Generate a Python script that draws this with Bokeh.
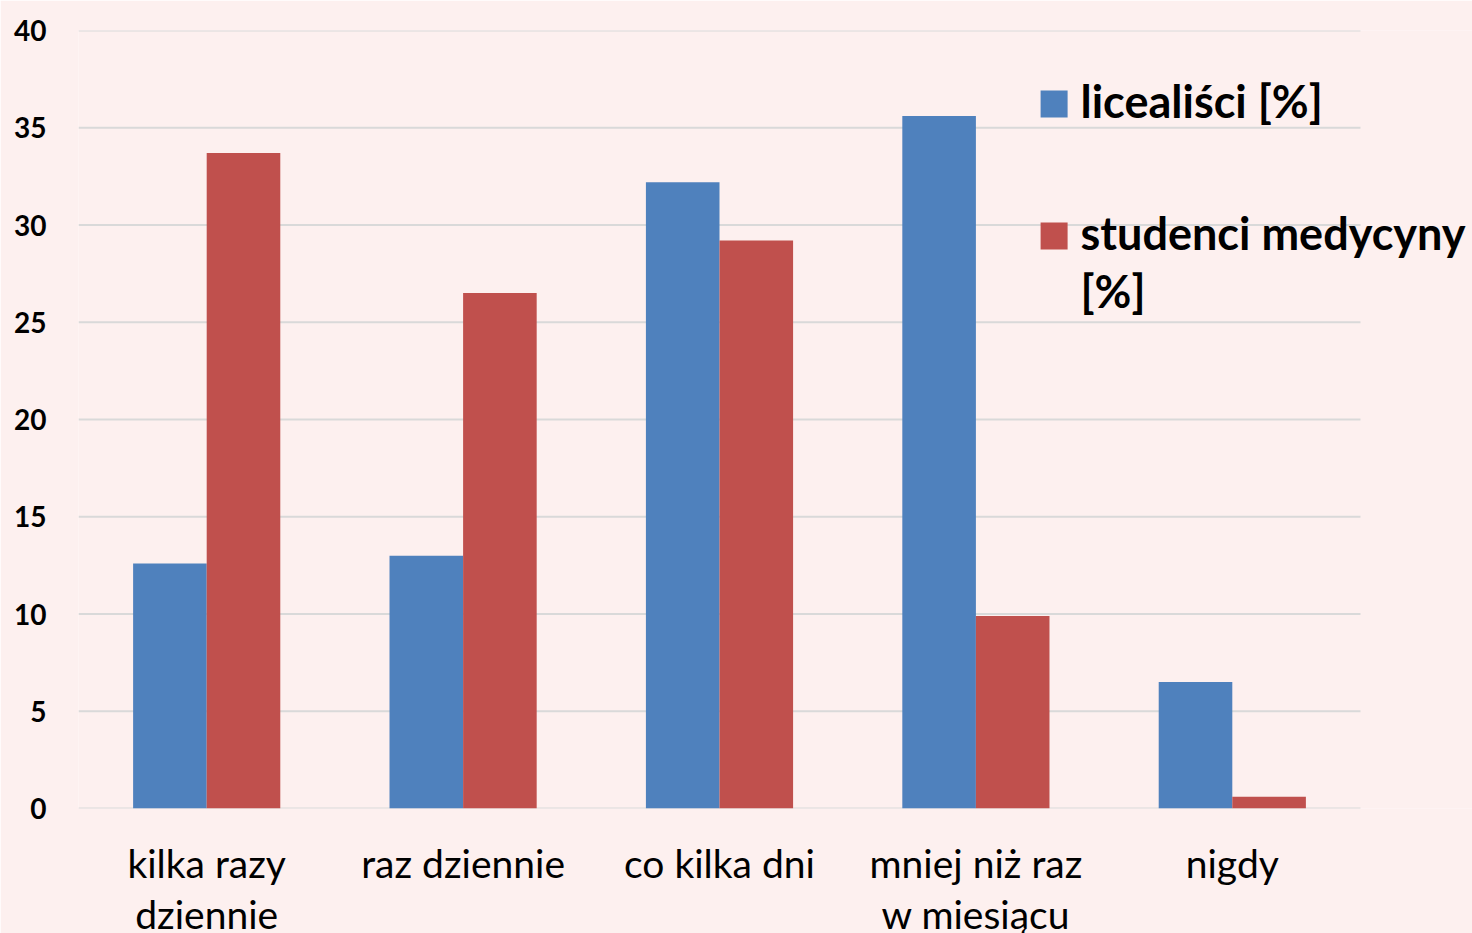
from bokeh.plotting import figure
from bokeh.models import Range1d, FixedTicker, Label, ColumnDataSource
from bokeh.embed import file_html
from bokeh.resources import INLINE

categories = ["kilka razy\ndziennie", "raz dziennie", "co kilka dni", "mniej niż raz\nw miesiącu", "nigdy"]
licealisci = [12.6, 13.0, 32.2, 35.6, 6.5]
studenci = [33.7, 26.5, 29.2, 9.9, 0.6]
series_names = ["licealiści [%]", "studenci medycyny", "[%]"]
y_ticks = [0, 5, 10, 15, 20, 25, 30, 35, 40]

BLUE = "#4F81BD"
RED = "#C0504D"
BG = "#FDF0EF"
GRID = "#D9D9D9"
FONT = "Lato"

n = len(categories)
cat_px = 256.4
left, top = 78, 30
frame_w = 1472 - left
frame_h = 778
xmax = frame_w / cat_px

p = figure(frame_width=frame_w, frame_height=frame_h, output_backend="svg", toolbar_location=None,
           x_range=Range1d(0, xmax), y_range=Range1d(0, 40),
           min_border_left=left, min_border_right=0, min_border_top=top, min_border_bottom=0)
p.background_fill_color = BG
p.border_fill_color = BG
p.outline_line_color = None

# gridlines only across the category area
p.segment(x0=[0] * len(y_ticks), x1=[n] * len(y_ticks), y0=y_ticks, y1=y_ticks,
          line_color=GRID, line_width=2)

centers = [i + 0.5 for i in range(n)]
bw = 0.287
src = ColumnDataSource(dict(xb=[c - bw / 2 for c in centers], xr=[c + bw / 2 for c in centers],
                            lic=licealisci, stu=studenci))
p.vbar(x="xb", top="lic", width=bw, bottom=0, source=src, fill_color=BLUE, line_color=None)
p.vbar(x="xr", top="stu", width=bw, bottom=0, source=src, fill_color=RED, line_color=None)

# axes
p.xaxis.ticker = FixedTicker(ticks=centers)
p.xaxis.major_label_overrides = {c: lab for c, lab in zip(centers, categories)}
p.xaxis.axis_line_color = None
p.xaxis.major_tick_line_color = None
p.xaxis.minor_tick_line_color = None
p.xaxis.major_label_text_font = FONT
p.xaxis.major_label_text_font_size = "39px"
p.xaxis.major_label_text_line_height = 1.12
p.xaxis.major_label_text_color = "black"
p.xaxis.major_label_standoff = 25
p.xgrid.grid_line_color = None
p.ygrid.grid_line_color = None

p.yaxis.ticker = FixedTicker(ticks=y_ticks)
p.yaxis.axis_line_color = None
p.yaxis.major_tick_line_color = None
p.yaxis.minor_tick_line_color = None
p.yaxis.major_label_text_font = FONT
p.yaxis.major_label_text_font_style = "bold"
p.yaxis.major_label_text_font_size = "28px"
p.yaxis.major_label_text_color = "black"
p.yaxis.major_label_standoff = 26

# legend (manual)
p.scatter(x=[3.805, 3.805], y=[36.22, 29.43], marker="square", size=27,
          fill_color=[BLUE, RED], line_color=None)
for txt, yy in zip(series_names, [36.4, 29.6, 26.6]):
    p.add_layout(Label(x=3.908, y=yy, text=txt, text_font=FONT, text_font_style="bold",
                       text_font_size="45px", text_baseline="middle", text_color="black"))

html = file_html(p, INLINE)
html = html.replace("<body>", '<body style="margin:0;background:%s;overflow:hidden">' % BG, 1)
open("out.html", "w").write(html)
